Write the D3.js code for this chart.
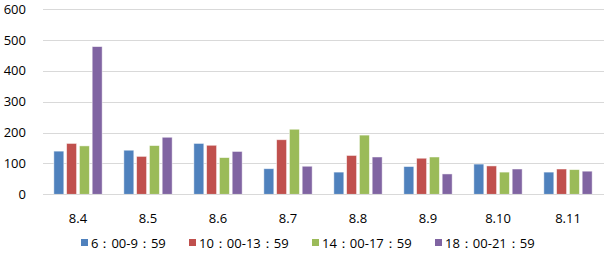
<!DOCTYPE html>
<html><head><meta charset="utf-8">
<script src="https://cdn.jsdelivr.net/npm/d3@7"></script>
<style>body{margin:0;background:#fff;}svg{display:block;font-family:"Open Sans","Liberation Sans",sans-serif;}</style>
</head><body><svg id="c" width="604" height="255"></svg>
<script>
const categories = ["8.4","8.5","8.6","8.7","8.8","8.9","8.10","8.11"];
const seriesNames = ["6：00-9：59","10：00-13：59","14：00-17：59","18：00-21：59"];
const s1 = [140,143,165,83,72,90,98,72];
const s2 = [165,123,159,177,126,117,92,82];
const s3 = [157,158,119,211,192,121,72,80];
const s4 = [479,185,139,91,121,66,82,75];
const yTicks = [0,100,200,300,400,500,600];
const colors = ["#4F81BD","#C0504D","#9BBB59","#8064A2"];
const series = [s1,s2,s3,s4];

const svg = d3.select("#c");
const x = d3.scaleBand().domain(categories).range([43,603]).paddingInner(0.31).paddingOuter(0.155);
const y = d3.scaleLinear().domain([0,600]).range([194.3,9.3]);
const xi = d3.scaleBand().domain(d3.range(4)).range([0,x.bandwidth()]).paddingInner(0.22);

svg.append("g").selectAll("line").data(yTicks.slice(1)).join("line")
  .attr("x1",43).attr("x2",604).attr("y1",d=>Math.round(y(d))+0.5).attr("y2",d=>Math.round(y(d))+0.5)
  .attr("stroke","#d9d9d9").attr("stroke-width",1);

svg.append("g").selectAll("text").data(yTicks).join("text")
  .attr("x",26).attr("y",d=>y(d)+4.5).attr("text-anchor","end")
  .attr("font-size",13).attr("fill","#000").text(d=>d);

categories.forEach((c,i)=>{
  series.forEach((s,j)=>{
    svg.append("rect").attr("x",x(c)+xi(j)).attr("y",y(s[i]))
      .attr("width",xi.bandwidth()).attr("height",y(0)-y(s[i]))
      .attr("fill",colors[j]).attr("stroke","#ffffff").attr("stroke-opacity",0.6).attr("stroke-width",0.8);
  });
});

svg.append("line").attr("x1",43).attr("x2",604).attr("y1",194.5).attr("y2",194.5).attr("stroke","#d9d9d9");

svg.append("g").selectAll("text").data(categories).join("text")
  .attr("x",d=>x(d)+x.bandwidth()/2).attr("y",222.5).attr("text-anchor","middle")
  .attr("font-size",13).attr("fill","#000").text(d=>d);

const legX = [81,189,312,435];
seriesNames.forEach((n,j)=>{
  svg.append("rect").attr("x",legX[j]).attr("y",239).attr("width",7).attr("height",7).attr("fill",colors[j]);
  svg.append("text").attr("x",legX[j]+10).attr("y",247.5).attr("font-size",13).attr("fill","#000").text(n);
});
</script></body></html>
